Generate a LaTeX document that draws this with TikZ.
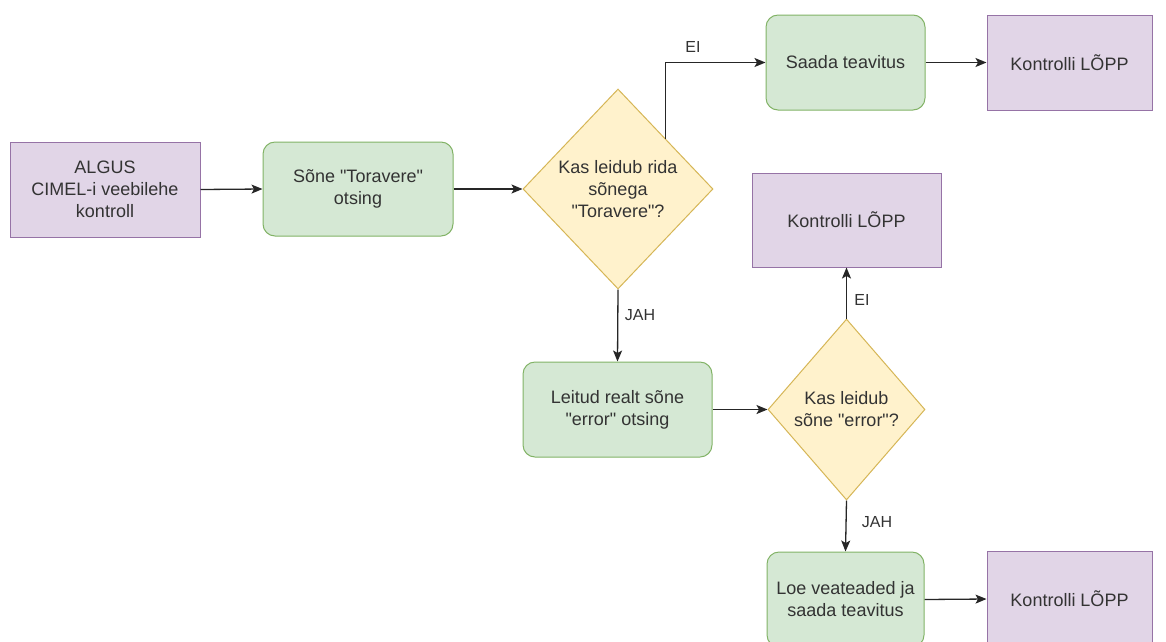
\documentclass[tikz,border=0pt]{standalone}
\usepackage{fontspec}
% a family without the TeX mapping, so that " stays a straight quote
\newfontfamily\plainsans{Liberation Sans}
\usetikzlibrary{shapes.geometric,arrows.meta}
\definecolor{endfill}{HTML}{E1D5E7}
\definecolor{enddraw}{HTML}{9673A6}
\definecolor{stepfill}{HTML}{D5E8D4}
\definecolor{stepdraw}{HTML}{82B366}
\definecolor{askfill}{HTML}{FFF2CC}
\definecolor{askdraw}{HTML}{D6B656}
\definecolor{ink}{HTML}{333333}
\begin{document}
\begin{tikzpicture}[x=1pt,y=-1pt,
  base/.style={text=ink, font=\plainsans\fontsize{18}{22}\selectfont, align=center, inner sep=0pt, line width=1pt},
  termbox/.style={base, rectangle, fill=endfill, draw=enddraw},
  stepbox/.style={base, rectangle, rounded corners=12pt, fill=stepfill, draw=stepdraw},
  askbox/.style={base, diamond, fill=askfill, draw=askdraw},
  flow/.style={line width=1.3pt, draw=black!85, -{Stealth[length=11pt,width=9pt,inset=2.5pt]}},
  tag/.style={text=ink, font=\plainsans\fontsize{16}{18}\selectfont, inner sep=0pt}
]
\useasboundingbox (0,0) rectangle (1166,641);
\fill[white] (0,0) rectangle (1166,641);
\clip (0,0) rectangle (1166,641);

% start and end boxes
\node[termbox, minimum width=190pt, minimum height=95pt] (algus) at (105,189.5) {ALGUS\\CIMEL-i veebilehe\\kontroll};
\node[termbox, minimum width=165pt, minimum height=95pt] (k1) at (1069.5,62.5) {Kontrolli LÕPP};
\node[termbox, minimum width=189pt, minimum height=94pt] (k2) at (846.5,220) {Kontrolli LÕPP};
\node[termbox, minimum width=165pt, minimum height=95pt] (k3) at (1069.5,599) {Kontrolli LÕPP};

% processing steps
\node[stepbox, minimum width=190pt, minimum height=94pt] (sone) at (358,189) {Sõne "Toravere"\\otsing};
\node[stepbox, minimum width=159pt, minimum height=95pt] (saada) at (845.5,62.5) {Saada teavitus};
\node[stepbox, minimum width=189pt, minimum height=95pt] (leitud) at (617.5,409.5) {Leitud realt sõne\\"error" otsing};
\node[stepbox, minimum width=157pt, minimum height=95pt] (loe) at (845.5,599.5) {Loe veateaded ja\\saada teavitus};

% decisions
\node[askbox, minimum width=190pt, minimum height=200pt] (d1) at (618,189) {Kas leidub rida\\sõnega\\"Toravere"?};
\node[askbox, minimum width=157pt, minimum height=181pt] (d2) at (846.5,409.5) {Kas leidub\\sõne "error"?};

% connectors
\draw[flow] (algus.east) -- (sone.west);
\draw[flow] (sone.east) -- (d1.west);
\draw[flow] (d1.north east) |- (saada.west);
\draw[flow] (saada.east) -- (k1.west);
\draw[flow] (d1.south) -- (leitud.north);
\draw[flow] (leitud.east) -- (d2.west);
\draw[flow] (d2.north) -- (k2.south);
\draw[flow] (d2.south) -- (loe.north);
\draw[flow] (loe.east) -- (k3.west);

% branch labels
\node[tag] (ei1) at (693,47) {EI};
\node[tag] (jah1) at (640,315) {JAH};
\node[tag] (ei2) at (862,300) {EI};
\node[tag] (jah2) at (877,522) {JAH};
\end{tikzpicture}
\end{document}
